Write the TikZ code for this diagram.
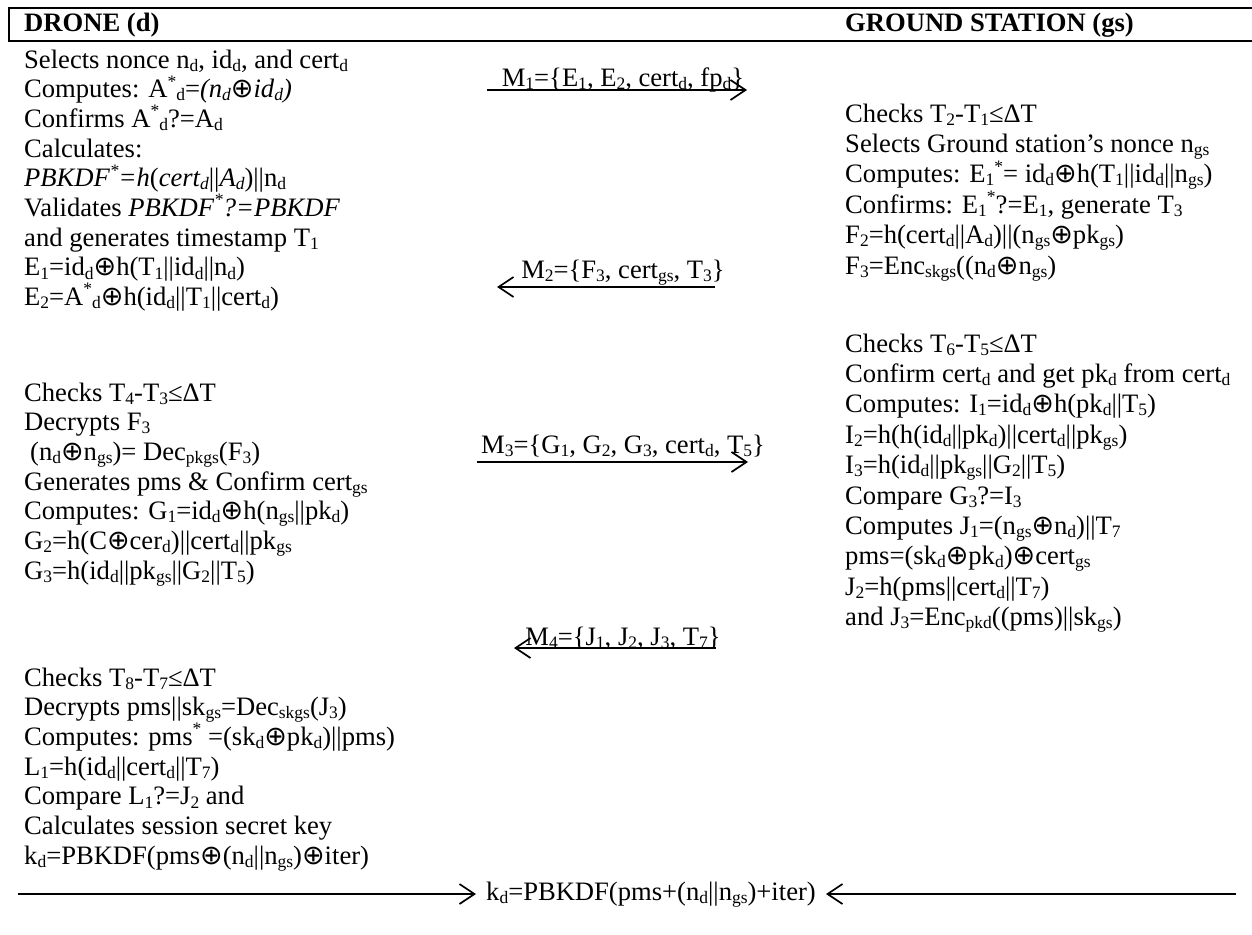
\documentclass[tikz,border=0pt]{standalone}
\usepackage{fontspec}
\setmainfont{Liberation Serif}
\newfontfamily\symf{DejaVu Sans}
\usetikzlibrary{arrows.meta}
\newcommand\sbs[1]{\raisebox{-0.12em}{\fontsize{17.5}{17.5}\selectfont #1}}
\newcommand\sps[1]{\raisebox{0.40em}{\fontsize{17.5}{17.5}\selectfont #1}}
\newcommand\xo{{\symf\fontsize{27}{27}\selectfont ⊕}}
\newcommand\txtblock[5]{%
  \foreach \lt [count=\i from 0] in {#5} {
    \node[txt] (#1\i) at ({#2},{#3+\i*#4}) {\lt};
  }}
\begin{document}
\begin{tikzpicture}[x=1pt,y=-1pt,
  txt/.style={anchor=base west, inner sep=0pt, font=\fontsize{26.6}{29.7}\selectfont},
  lbl/.style={anchor=base, inner sep=0pt, font=\fontsize{26.6}{29.7}\selectfont},
  hdr/.style={anchor=base west, inner sep=0pt, font=\fontsize{26.6}{29.7}\selectfont\bfseries},
  frame/.style={line width=2.4pt},
  arr/.style={line width=1.7pt, -{Straight Barb[length=15pt,width=20pt,line width=1.7pt]}}]
\useasboundingbox (0,0) rectangle (1252,934);
% header
\coordinate (h1) at (1256,8);
\coordinate (h2) at (9,8);
\coordinate (h3) at (9,41);
\coordinate (h4) at (1256,41);
\draw[frame] (h1) -- (h2) -- (h3) -- (h4);
\node[hdr] (hd) at (24,32) {DRONE (d)};
\node[hdr] (hg) at (845,32) {GROUND STATION (gs)};
% left column
\txtblock{a}{24}{68}{29.7}{%
 {Selects nonce n\sbs{d}, id\sbs{d}, and cert\sbs{d}},
 {Computes: A\sps{*}\sbs{d}=\textit{(n\sbs{d}\xo id\sbs{d})}},
 {Confirms A\sps{*}\sbs{d}?=A\sbs{d}},
 {Calculates:},
 {\textit{PBKDF\sps{*}=h}(\textit{cert\sbs{d}}||\textit{A\sbs{d}})||n\sbs{d}},
 {Validates \textit{PBKDF\sps{*}?=PBKDF}},
 {and generates timestamp T\sbs{1}},
 {E\sbs{1}=id\sbs{d}\xo h(T\sbs{1}||id\sbs{d}||n\sbs{d})},
 {E\sbs{2}=A\sps{*}\sbs{d}\xo h(id\sbs{d}||T\sbs{1}||cert\sbs{d})}}
\txtblock{b}{24}{401}{29.7}{%
 {Checks T\sbs{4}-T\sbs{3}≤ΔT},
 {Decrypts F\sbs{3}},
 {\hspace{6pt}(n\sbs{d}\xo n\sbs{gs})= Dec\sbs{pkgs}(F\sbs{3})},
 {Generates pms \& Confirm cert\sbs{gs}},
 {Computes: G\sbs{1}=id\sbs{d}\xo h(n\sbs{gs}||pk\sbs{d})},
 {G\sbs{2}=h(C\xo cer\sbs{d})||cert\sbs{d}||pk\sbs{gs}},
 {G\sbs{3}=h(id\sbs{d}||pk\sbs{gs}||G\sbs{2}||T\sbs{5})}}
\txtblock{c}{24}{686}{29.7}{%
 {Checks T\sbs{8}-T\sbs{7}≤ΔT},
 {Decrypts pms||sk\sbs{gs}=Dec\sbs{skgs}(J\sbs{3})},
 {Computes: pms\sps{*} =(sk\sbs{d}\xo pk\sbs{d})||pms)},
 {L\sbs{1}=h(id\sbs{d}||cert\sbs{d}||T\sbs{7})},
 {Compare L\sbs{1}?=J\sbs{2} and},
 {Calculates session secret key},
 {k\sbs{d}=PBKDF(pms\xo(n\sbs{d}||n\sbs{gs})\xo iter)}}
% right column
\txtblock{r}{845}{122}{30.4}{%
 {Checks T\sbs{2}-T\sbs{1}≤ΔT},
 {Selects Ground station’s nonce n\sbs{gs}},
 {Computes: E\sbs{1}\sps{*}= id\sbs{d}\xo h(T\sbs{1}||id\sbs{d}||n\sbs{gs})},
 {Confirms: E\sbs{1}\sps{*}?=E\sbs{1}, generate T\sbs{3}},
 {F\sbs{2}=h(cert\sbs{d}||A\sbs{d})||(n\sbs{gs}\xo pk\sbs{gs})},
 {F\sbs{3}=Enc\sbs{skgs}((n\sbs{d}\xo n\sbs{gs})}}
\txtblock{s}{845}{352}{30.4}{%
 {Checks T\sbs{6}-T\sbs{5}≤ΔT},
 {Confirm cert\sbs{d} and get pk\sbs{d} from cert\sbs{d}},
 {Computes: I\sbs{1}=id\sbs{d}\xo h(pk\sbs{d}||T\sbs{5})},
 {I\sbs{2}=h(h(id\sbs{d}||pk\sbs{d})||cert\sbs{d}||pk\sbs{gs})},
 {I\sbs{3}=h(id\sbs{d}||pk\sbs{gs}||G\sbs{2}||T\sbs{5})},
 {Compare G\sbs{3}?=I\sbs{3}},
 {Computes J\sbs{1}=(n\sbs{gs}\xo n\sbs{d})||T\sbs{7}},
 {pms=(sk\sbs{d}\xo pk\sbs{d})\xo cert\sbs{gs}},
 {J\sbs{2}=h(pms||cert\sbs{d}||T\sbs{7})},
 {and J\sbs{3}=Enc\sbs{pkd}((pms)||sk\sbs{gs})}}
% messages
\node[lbl] (m1) at (623,86) {M\sbs{1}=\{E\sbs{1}, E\sbs{2}, cert\sbs{d}, fp\sbs{d}\}};
\coordinate (m1a) at (487,90); \coordinate (m1b) at (747,90);
\draw[arr] (m1a) -- (m1b);
\node[lbl] (m2) at (623,278) {M\sbs{2}=\{F\sbs{3}, cert\sbs{gs}, T\sbs{3}\}};
\coordinate (m2a) at (715,287); \coordinate (m2b) at (497,287);
\draw[arr] (m2a) -- (m2b);
\node[lbl] (m3) at (623,453) {M\sbs{3}=\{G\sbs{1}, G\sbs{2}, G\sbs{3}, cert\sbs{d}, T\sbs{5}\}};
\coordinate (m3a) at (477,462); \coordinate (m3b) at (748,462);
\draw[arr] (m3a) -- (m3b);
\node[lbl] (m4) at (623,645) {M\sbs{4}=\{J\sbs{1}, J\sbs{2}, J\sbs{3}, T\sbs{7}\}};
\coordinate (m4a) at (716,648); \coordinate (m4b) at (514,648);
\draw[arr] (m4a) -- (m4b);
% final key
\node[anchor=west, inner xsep=10pt, inner ysep=0pt, text height=18pt, text depth=6pt,
  font=\fontsize{26.6}{29.7}\selectfont] (fin) at (476,894)
  {k\sbs{d}=PBKDF(pms+(n\sbs{d}||n\sbs{gs})+iter)};
\coordinate (fl) at (18,894);
\coordinate (fr) at (1236,894);
\draw[arr] (fl) -- (fin.west);
\draw[arr] (fr) -- (fin.east);
\end{tikzpicture}
\end{document}
